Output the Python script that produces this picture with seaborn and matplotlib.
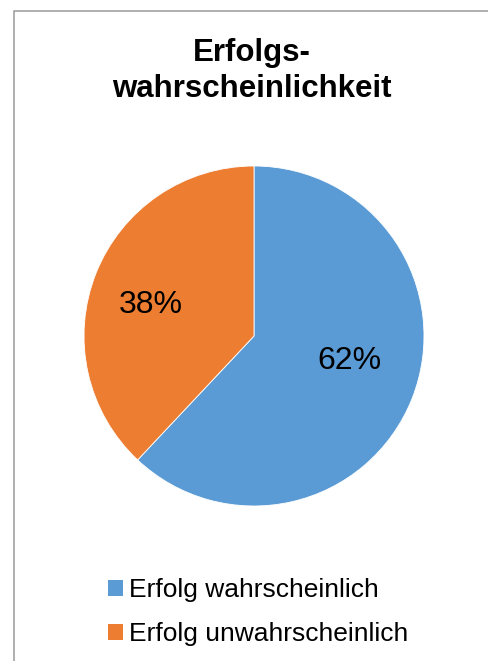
import matplotlib
matplotlib.use("Agg")
import matplotlib.pyplot as plt
from matplotlib.patches import Rectangle
import seaborn as sns

# Chart data
categories = ["Erfolg wahrscheinlich", "Erfolg unwahrscheinlich"]
values = [62, 38]
colors = ["#5B9BD5", "#ED7D31"]
title = "Erfolgs-\nwahrscheinlichkeit"

sns.set_theme(style="white")
plt.rcParams["font.family"] = ["Liberation Sans", "DejaVu Sans"]

W, H, DPI = 489, 661, 100
fig = plt.figure(figsize=(W / DPI, H / DPI), dpi=DPI)
fig.patch.set_facecolor("white")

# Chart-area border (open to the right and bottom)
fig.patches.append(Rectangle((14.5 / W, -0.1), 1.2, 1 - 11.5 / H + 0.1,
                             transform=fig.transFigure, fill=False,
                             edgecolor="#9a9a9a", linewidth=1.1))

# Pie axes: centre (254, 336) px, radius 170 px
cx, cy, r = 254, 336, 170
ax = fig.add_axes([(cx - r) / W, 1 - (cy + r) / H, 2 * r / W, 2 * r / H])
wedges, texts, autotexts = ax.pie(
    values, colors=colors, startangle=90, counterclock=False,
    autopct="%.0f%%", pctdistance=0.6,
    wedgeprops=dict(edgecolor="white", linewidth=0.6),
    textprops=dict(fontsize=23, color="black"))
ax.set_xlim(-1, 1)
ax.set_ylim(-1, 1)
ax.set_aspect("equal")
ax.axis("off")

# Data-label placement inside the slices
label_pos = [(0.56, -0.145), (-0.61, 0.18)]
for t, pos in zip(autotexts, label_pos):
    t.set_position(pos)

fig.text(251.5 / W, 1 - 71 / H, title, ha="center", va="center",
         multialignment="center", fontsize=22.5, fontweight="bold",
         linespacing=1.3, color="black")

handles = [Rectangle((0, 0), 1, 1, facecolor=c, edgecolor="none") for c in colors]
fig.legend(handles, categories, loc="center left",
           bbox_to_anchor=(108 / W, 1 - 612 / H), frameon=False,
           fontsize=19, handlelength=0.55, handleheight=0.55,
           handletextpad=0.25, labelspacing=0.75, borderpad=0,
           borderaxespad=0, labelcolor="black")

fig.savefig("out.png", dpi=DPI, facecolor="white")
